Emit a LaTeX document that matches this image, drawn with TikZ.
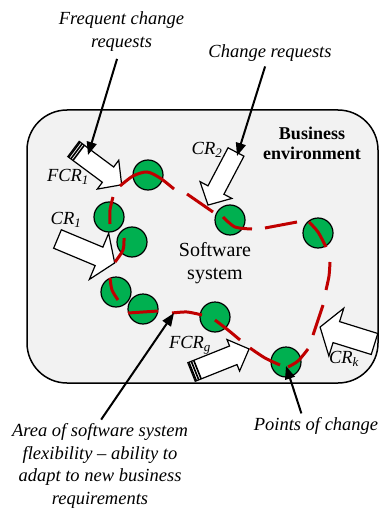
\documentclass[tikz,border=0pt]{standalone}
\usepackage{fontspec}
\setmainfont{LiberationSerif}[
  Extension=.ttf,
  UprightFont=*-Regular,
  BoldFont=*-Bold,
  ItalicFont=*-Italic,
  BoldItalicFont=*-BoldItalic]
\usetikzlibrary{arrows.meta}

\definecolor{pointgreen}{RGB}{0,176,80}
\definecolor{flexred}{RGB}{192,0,0}
\definecolor{envgray}{RGB}{242,242,242}

\tikzset{
  point/.style={circle, draw, fill=pointgreen, line width=1.2pt, minimum size=30pt, inner sep=0pt},
  flex/.style={flexred, line width=3pt},
  request/.style={draw, fill=white, line width=1.2pt},
  pointer/.style={line width=2pt, -{Triangle[length=13pt,width=10pt]}},
  lbl/.style={font=\fontsize{18.5}{23}\selectfont\itshape, inner sep=2pt},
}

% block arrow: tail, angle, length, half shaft width, half head width
\newcommand{\reqarrow}[5]{%
  \begin{scope}[shift={#1}, rotate=#2]
    \draw[request] (0,-#4) -- (#3-17,-#4) -- (#3-17,-#5) -- (#3,0)
      -- (#3-17,#5) -- (#3-17,#4) -- (0,#4) -- cycle;
  \end{scope}}
% same, with the striped tail of a frequent request
\newcommand{\freqarrow}[5]{%
  \reqarrow{#1}{#2}{#3}{#4}{#5}
  \begin{scope}[shift={#1}, rotate=#2]
    \foreach \s in {1.2,3.8,6.4}
      \draw[line width=1.6pt] (\s,-#4) -- (\s,#4);
  \end{scope}}

\begin{document}
\begin{tikzpicture}[x=1pt, y=-1pt]
\useasboundingbox (0,0) rectangle (380,508);

% business environment
\draw[fill=envgray, line width=1.5pt, rounded corners=40pt] (27,110) rectangle (378,383);
\node[font=\fontsize{18}{20}\selectfont\bfseries, align=center] (env) at (312,143) {Business\\environment};
\node[font=\fontsize{20}{23}\selectfont, align=center] (sw) at (215,263) {Software\\system};

% change requests
\freqarrow{(73.5,149)}{-36.6}{60}{9.5}{18}
\reqarrow{(57.5,239)}{-22.7}{62}{10}{25}
\reqarrow{(236,152)}{-117.8}{60}{9}{18}
\freqarrow{(191.5,372)}{21.8}{62}{10}{17}
\reqarrow{(374.5,344)}{162.7}{57}{11}{25}

% points of change
\foreach \n/\x/\y in {1/148/175, 2/109/217, 3/132/242, 4/116/292, 5/143/309,
                      6/215/317, 7/230/220, 8/318/233, 9/286/362}
  \node[point] (p\n) at (\x,\y) {};

% flexibility boundary
\draw[flex] plot[smooth] coordinates {(120,186) (133,176) (147,172) (160,178) (174,189)};
\draw[flex] (187,194) -- (213,212);
\draw[flex] plot[smooth] coordinates {(223,217) (235,227) (252,229)};
\draw[flex] (265,228) -- (297,222);
\draw[flex] plot[smooth] coordinates {(309,222) (318,232) (326,247)};
\draw[flex] plot[smooth] coordinates {(330,262) (329,276) (326,290)};
\draw[flex] (323,305) -- (313,335);
\draw[flex] plot[smooth] coordinates {(308,349) (298,361) (288,367)};
\draw[flex] plot[smooth] coordinates {(280,365) (265,358) (250,348)};
\draw[flex] plot[smooth] coordinates {(240,340) (228,330) (215,320)};
\draw[flex] plot[smooth] coordinates {(202,315) (187,312) (172,313)};
\draw[flex] plot[smooth] coordinates {(158,311) (143,312) (128,313)};
\draw[flex] plot[smooth] coordinates {(118,300) (112,290) (110,278)};
\draw[flex] plot[smooth] coordinates {(115,262) (123,250) (124,238)};
\draw[flex] plot[smooth] coordinates {(110,224) (110,210) (113,197)};

% request labels
\node[lbl] (fcr1) at (68,177) {FCR\textsubscript{1}};
\node[lbl] (cr1) at (66,220) {CR\textsubscript{1}};
\node[lbl] (cr2) at (207,150) {CR\textsubscript{2}};
\node[lbl] (fcrg) at (190,345) {FCR\textsubscript{g}};
\node[lbl] (crk) at (344,359) {CR\textsubscript{k}};

% captions
\node[lbl, align=center] (freq) at (121.5,32) {Frequent change\\requests};
\node[lbl] (chg) at (270,53) {Change requests};
\node[lbl, align=center, font=\fontsize{18.5}{22.7}\selectfont\itshape] (area) at (100,466)
  {Area of software system\\flexibility -- ability to\\adapt to new business\\requirements};
\node[lbl] (points) at (316,426) {Points of change};

\coordinate (freq end) at (88,155);
\coordinate (chg end) at (237,156);
\coordinate (area end) at (174,313);
\coordinate (points end) at (286,366);

\draw[pointer, shorten <=5pt] ([xshift=-3pt]freq.south) -- (freq end);
\draw[pointer, shorten <=3pt] ([xshift=-4pt]chg.south) -- (chg end);
\draw[pointer, shorten <=2pt] (area.north) -- (area end);
\draw[pointer, shorten <=2pt] ([xshift=-14pt]points.north) -- (points end);

\end{tikzpicture}
\end{document}
